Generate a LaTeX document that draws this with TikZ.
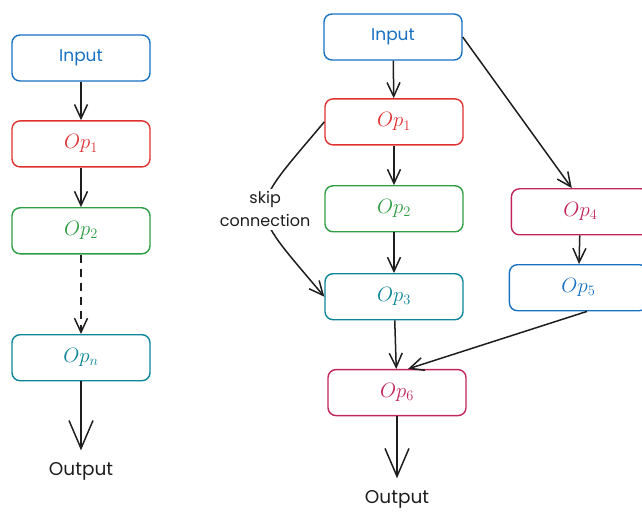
\documentclass[tikz,border=0pt]{standalone}
\usepackage{fontspec}
\setmainfont{Poppins}
\usetikzlibrary{positioning, arrows.meta}
\definecolor{ink}{HTML}{1E1E1E}
\definecolor{cblue}{HTML}{1971C2}
\definecolor{cred}{HTML}{E03131}
\definecolor{cgreen}{HTML}{2F9E44}
\definecolor{cteal}{HTML}{0C8599}
\definecolor{cpink}{HTML}{C2255C}

\begin{document}
\begin{tikzpicture}[x=1pt, y=1pt,
	op/.style={draw, rounded corners=8pt, line width=1.4pt, fill=white,
	           minimum width=138pt, minimum height=46pt, font=\fontsize{20}{24}\selectfont},
	word/.style={font=\fontsize{17}{20}\selectfont},
	txt/.style={inner sep=1pt, text=ink, font=\fontsize{18.5}{22}\selectfont},
	link/.style={-{Straight Barb[length=14pt,width=13pt]}, line width=1.5pt, draw=ink},
	biglink/.style={-{Straight Barb[length=28pt,width=24pt]}, line width=1.5pt, draw=ink, shorten >=11pt}]
	\useasboundingbox (0,0) rectangle (642,512);

	% plain chain of operations
	\node [op, word, draw=cblue, text=cblue] at (81,454) (lin)  {Input};
	\node [op, draw=cred,   text=cred,   below=38.5pt of lin]  (lop1) {$Op_1$};
	\node [op, draw=cgreen, text=cgreen, below=39.5pt of lop1] (lop2) {$Op_2$};
	\node [op, draw=cteal,  text=cteal,  below=79.5pt of lop2] (lopn) {$Op_n$};
	\node [txt, below=80pt of lopn] (lout) {Output};
	\draw [link] (lin) -- (lop1);
	\draw [link] (lop1) -- (lop2);
	\draw [link, dash pattern=on 8pt off 6pt] (lop2) -- (lopn);
	\draw [biglink] (lopn) -- (lout);

	% graph with a skip connection and a side branch
	\node [op, word, draw=cblue, text=cblue] at (393,475) (rin) {Input};
	\node [op, draw=cred,   text=cred,   below=37.5pt of rin, xshift=1pt] (rop1) {$Op_1$};
	\node [op, draw=cgreen, text=cgreen, below=39.5pt of rop1] (rop2) {$Op_2$};
	\node [op, draw=cteal,  text=cteal,  below=40.5pt of rop2] (rop3) {$Op_3$};
	\node [op, draw=cpink,  text=cpink,  below=48.5pt of rop3, xshift=3pt] (rop6) {$Op_6$};
	\node [op, draw=cpink,  text=cpink,  right=47pt of rop2, yshift=-3pt] (rop4) {$Op_4$};
	\node [op, draw=cblue,  text=cblue,  below=28.5pt of rop4, xshift=-2pt] (rop5) {$Op_5$};
	\node [txt, below=73pt of rop6] (rout) {Output};

	\draw [link] (rin) -- (rop1);
	\draw [link] (rop1) -- (rop2);
	\draw [link] (rop2) -- (rop3);
	\draw [link] (rop3) -- (rop6);
	\draw [link] (rin.east) -- (rop4.110);
	\draw [link] (rop4) -- (rop5);
	\draw [link] (rop5.-70) -- (rop6.65);
	\draw [link] (rop1.west) to [out=230, in=130, looseness=1.8]
		node [fill=white, text=ink, align=center, inner sep=3pt,
		      font=\fontsize{16}{23}\selectfont] (skip) {skip\\connection} (rop3.west);
	\draw [biglink] (rop6) -- (rout);
\end{tikzpicture}
\end{document}
